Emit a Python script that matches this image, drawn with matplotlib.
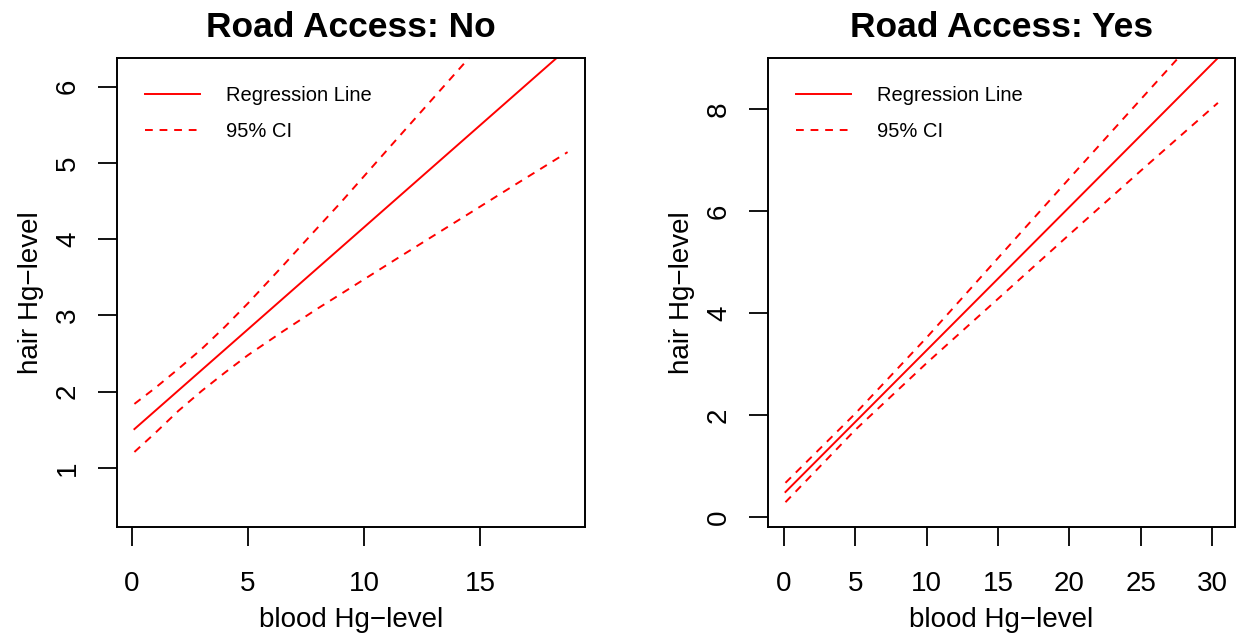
import matplotlib
matplotlib.use("Agg")
import matplotlib.pyplot as plt

plt.rcParams["font.family"] = ["Liberation Sans", "DejaVu Sans"]

# Road access: No
no_fit_x = [0.1, 18.78]
no_fit = [1.51, 6.50]
no_x = [0.1, 1, 2, 3, 4, 5, 6.5, 8, 9, 11.5, 14.4, 16.5, 18.78]
no_upper = [1.84, 2.05, 2.30, 2.56, 2.85, 3.16, 3.65, 4.15, 4.48, 5.34, 6.33, 7.07, 7.86]
no_lower = [1.21, 1.46, 1.75, 2.01, 2.25, 2.48, 2.79, 3.09, 3.28, 3.76, 4.31, 4.71, 5.14]

# Road access: Yes
yes_fit_x = [0.1, 30.4]
yes_fit = [0.49, 9.0]
yes_x = [0.1, 5, 10, 15, 20, 25, 30.4]
yes_upper = [0.67, 2.03, 3.52, 5.08, 6.64, 8.19, 9.86]
yes_lower = [0.29, 1.71, 3.02, 4.28, 5.54, 6.79, 8.12]

panels = [
    ("Road Access: No", no_fit_x, no_fit, no_x, no_upper, no_lower,
     [0, 5, 10, 15], [1, 2, 3, 4, 5, 6], (-0.65, 19.53), (0.227, 6.374)),
    ("Road Access: Yes", yes_fit_x, yes_fit, yes_x, yes_upper, yes_lower,
     [0, 5, 10, 15, 20, 25, 30], [0, 2, 4, 6, 8], (-1.12, 31.6), (-0.196, 9.0)),
]

fig = plt.figure(figsize=(12.37, 6.4), dpi=100)
axes = [fig.add_axes([0.0946, 0.1766, 0.3783, 0.7328]),
        fig.add_axes([0.6209, 0.1766, 0.3775, 0.7328])]

for ax, (title, fx, fit, x, up, lo, xt, yt, xl, yl) in zip(axes, panels):
    ax.plot(fx, fit, color="red", lw=1.4, label="Regression Line")
    ax.plot(x, up, color="red", lw=1.4, dashes=(4, 3.5), label="95% CI")
    ax.plot(x, lo, color="red", lw=1.4, dashes=(4, 3.5))
    ax.set_xlim(*xl)
    ax.set_ylim(*yl)
    ax.set_xticks(xt)
    ax.set_yticks(yt)
    ax.tick_params(direction="out", length=14, width=1.3, labelsize=20)
    ax.tick_params(axis="x", pad=18)
    ax.tick_params(axis="y", pad=12)
    for lab in ax.get_yticklabels():
        lab.set_rotation(90)
        lab.set_verticalalignment("center")
    for s in ax.spines.values():
        s.set_linewidth(1.4)
    ax.set_title(title, fontsize=25.5, fontweight="bold", pad=15)
    ax.set_xlabel("blood Hg\u2212level", fontsize=20, labelpad=7)
    ax.set_ylabel("hair Hg\u2212level", fontsize=20, labelpad=8)
    ax.legend(loc="upper left", frameon=False, fontsize=14.5, handlelength=2.7,
              handletextpad=1.3, labelspacing=0.85, borderaxespad=0.8,
              borderpad=0.6)

fig.savefig("out.png", dpi=100)
